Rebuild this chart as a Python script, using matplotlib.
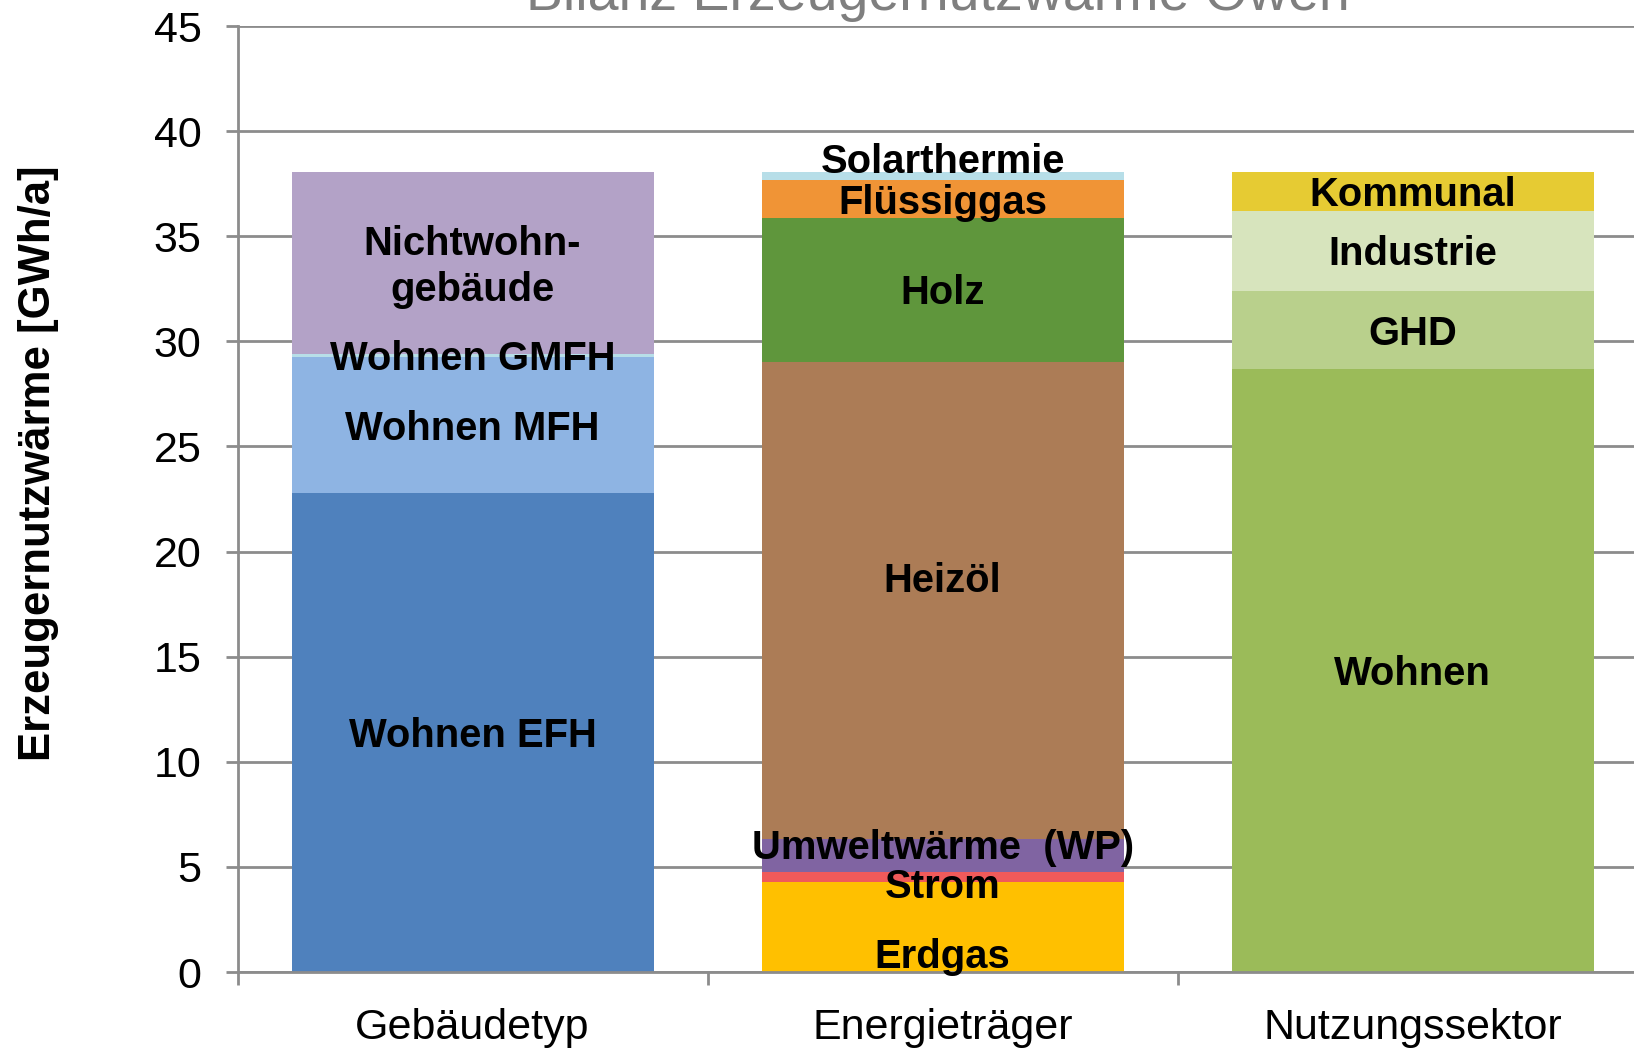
import matplotlib
matplotlib.use('Agg')
import matplotlib.pyplot as plt
import numpy as np

# ---------------- data ----------------
title = 'Bilanz Erzeugernutzwärme Owen'
ylabel = 'Erzeugernutzwärme [GWh/a]'
categories = ['Gebäudetyp', 'Energieträger', 'Nutzungssektor']

gebaeude_labels = ['Wohnen EFH', 'Wohnen MFH', 'Wohnen GMFH', 'Nichtwohn-\ngebäude']
gebaeude_values = [22.8, 6.44, 0.16, 8.66]

energie_labels = ['Erdgas', 'Strom', 'Umweltwärme  (WP)', 'Heizöl', 'Holz', 'Flüssiggas', 'Solarthermie']
energie_values = [4.26, 0.50, 1.58, 22.70, 6.84, 1.78, 0.40]

sektor_labels = ['Wohnen', 'GHD', 'Industrie', 'Kommunal']
sektor_values = [28.69, 3.72, 3.81, 1.84]

yticks = [0, 5, 10, 15, 20, 25, 30, 35, 40, 45]

# ---------------- styles ----------------
gebaeude_colors = ['#4f81bd', '#8eb4e3', '#b7dee8', '#b3a2c7']
energie_colors = ['#ffc000', '#f05a5a', '#8064a2', '#ac7c56', '#5f963c', '#f09436', '#b7dee8']
sektor_colors = ['#9bbb59', '#b9d08c', '#d7e4bd', '#e6cb33']

# label offsets (data units) for labels moved away from segment centre
label_offsets = {'Erdgas': -1.24, 'Strom': -0.30, 'Umweltwärme  (WP)': 0.55,
                 'Heizöl': 1.10, 'Solarthermie': 0.85}
text_shift = -0.18

plt.rcParams['font.family'] = ['Liberation Sans', 'DejaVu Sans']

W, H = 1634, 1050
fig = plt.figure(figsize=(W / 100, H / 100), dpi=100)
ax = fig.add_axes([237.6 / W, 78 / H, 1 - 237.6 / W, (972 - 26) / H])

grid_color = '#8c8c8c'
bar_width = 0.77
groups = [(gebaeude_labels, gebaeude_values, gebaeude_colors),
          (energie_labels, energie_values, energie_colors),
          (sektor_labels, sektor_values, sektor_colors)]

for i, (labels, values, colors) in enumerate(groups):
    bottom = 0.0
    for lab, val, col in zip(labels, values, colors):
        ax.bar(i, val, bottom=bottom, width=bar_width, color=col, edgecolor='none', zorder=2)
        yc = bottom + val / 2 + label_offsets.get(lab, 0.0) + text_shift
        ax.text(i, yc, lab, ha='center', va='center', fontsize=28.8, fontweight='bold',
                color='black', linespacing=1.28, zorder=3)
        bottom += val

ax.set_yticks(yticks)
ax.set_yticklabels([str(t) for t in yticks])
ax.yaxis.grid(True, color=grid_color, linewidth=2.0, zorder=0)
ax.set_axisbelow(True)

ax.set_xticks(range(len(categories)))
ax.set_xticklabels(categories)
ax.set_xticks([-0.5, 0.5, 1.5], minor=True)
ax.tick_params(axis='x', which='major', length=0, pad=26, labelsize=31, labelcolor='black')
ax.tick_params(axis='x', which='minor', length=9, width=2.0, color=grid_color)
ax.tick_params(axis='y', which='major', length=9, width=2.0, color=grid_color,
               pad=17, labelsize=31, labelcolor='black')
ax.set_ylim(0, 45)
ax.set_xlim(-0.5, 2.471)

for s in ['top', 'right']:
    ax.spines[s].set_visible(False)
for s in ['left', 'bottom']:
    ax.spines[s].set_color(grid_color)
    ax.spines[s].set_linewidth(2.0)

ax.set_ylabel(ylabel, fontsize=31.5, fontweight='bold', color='black', va='center')
ax.yaxis.set_label_coords((38.6 - 237.6) / (W - 237.6), 0.538)

fig.text(938 / W, 1 - 9.5 / H, title, ha='center', va='baseline', fontsize=40, color='#7f7f7f')

fig.savefig('out.png', dpi=100)
